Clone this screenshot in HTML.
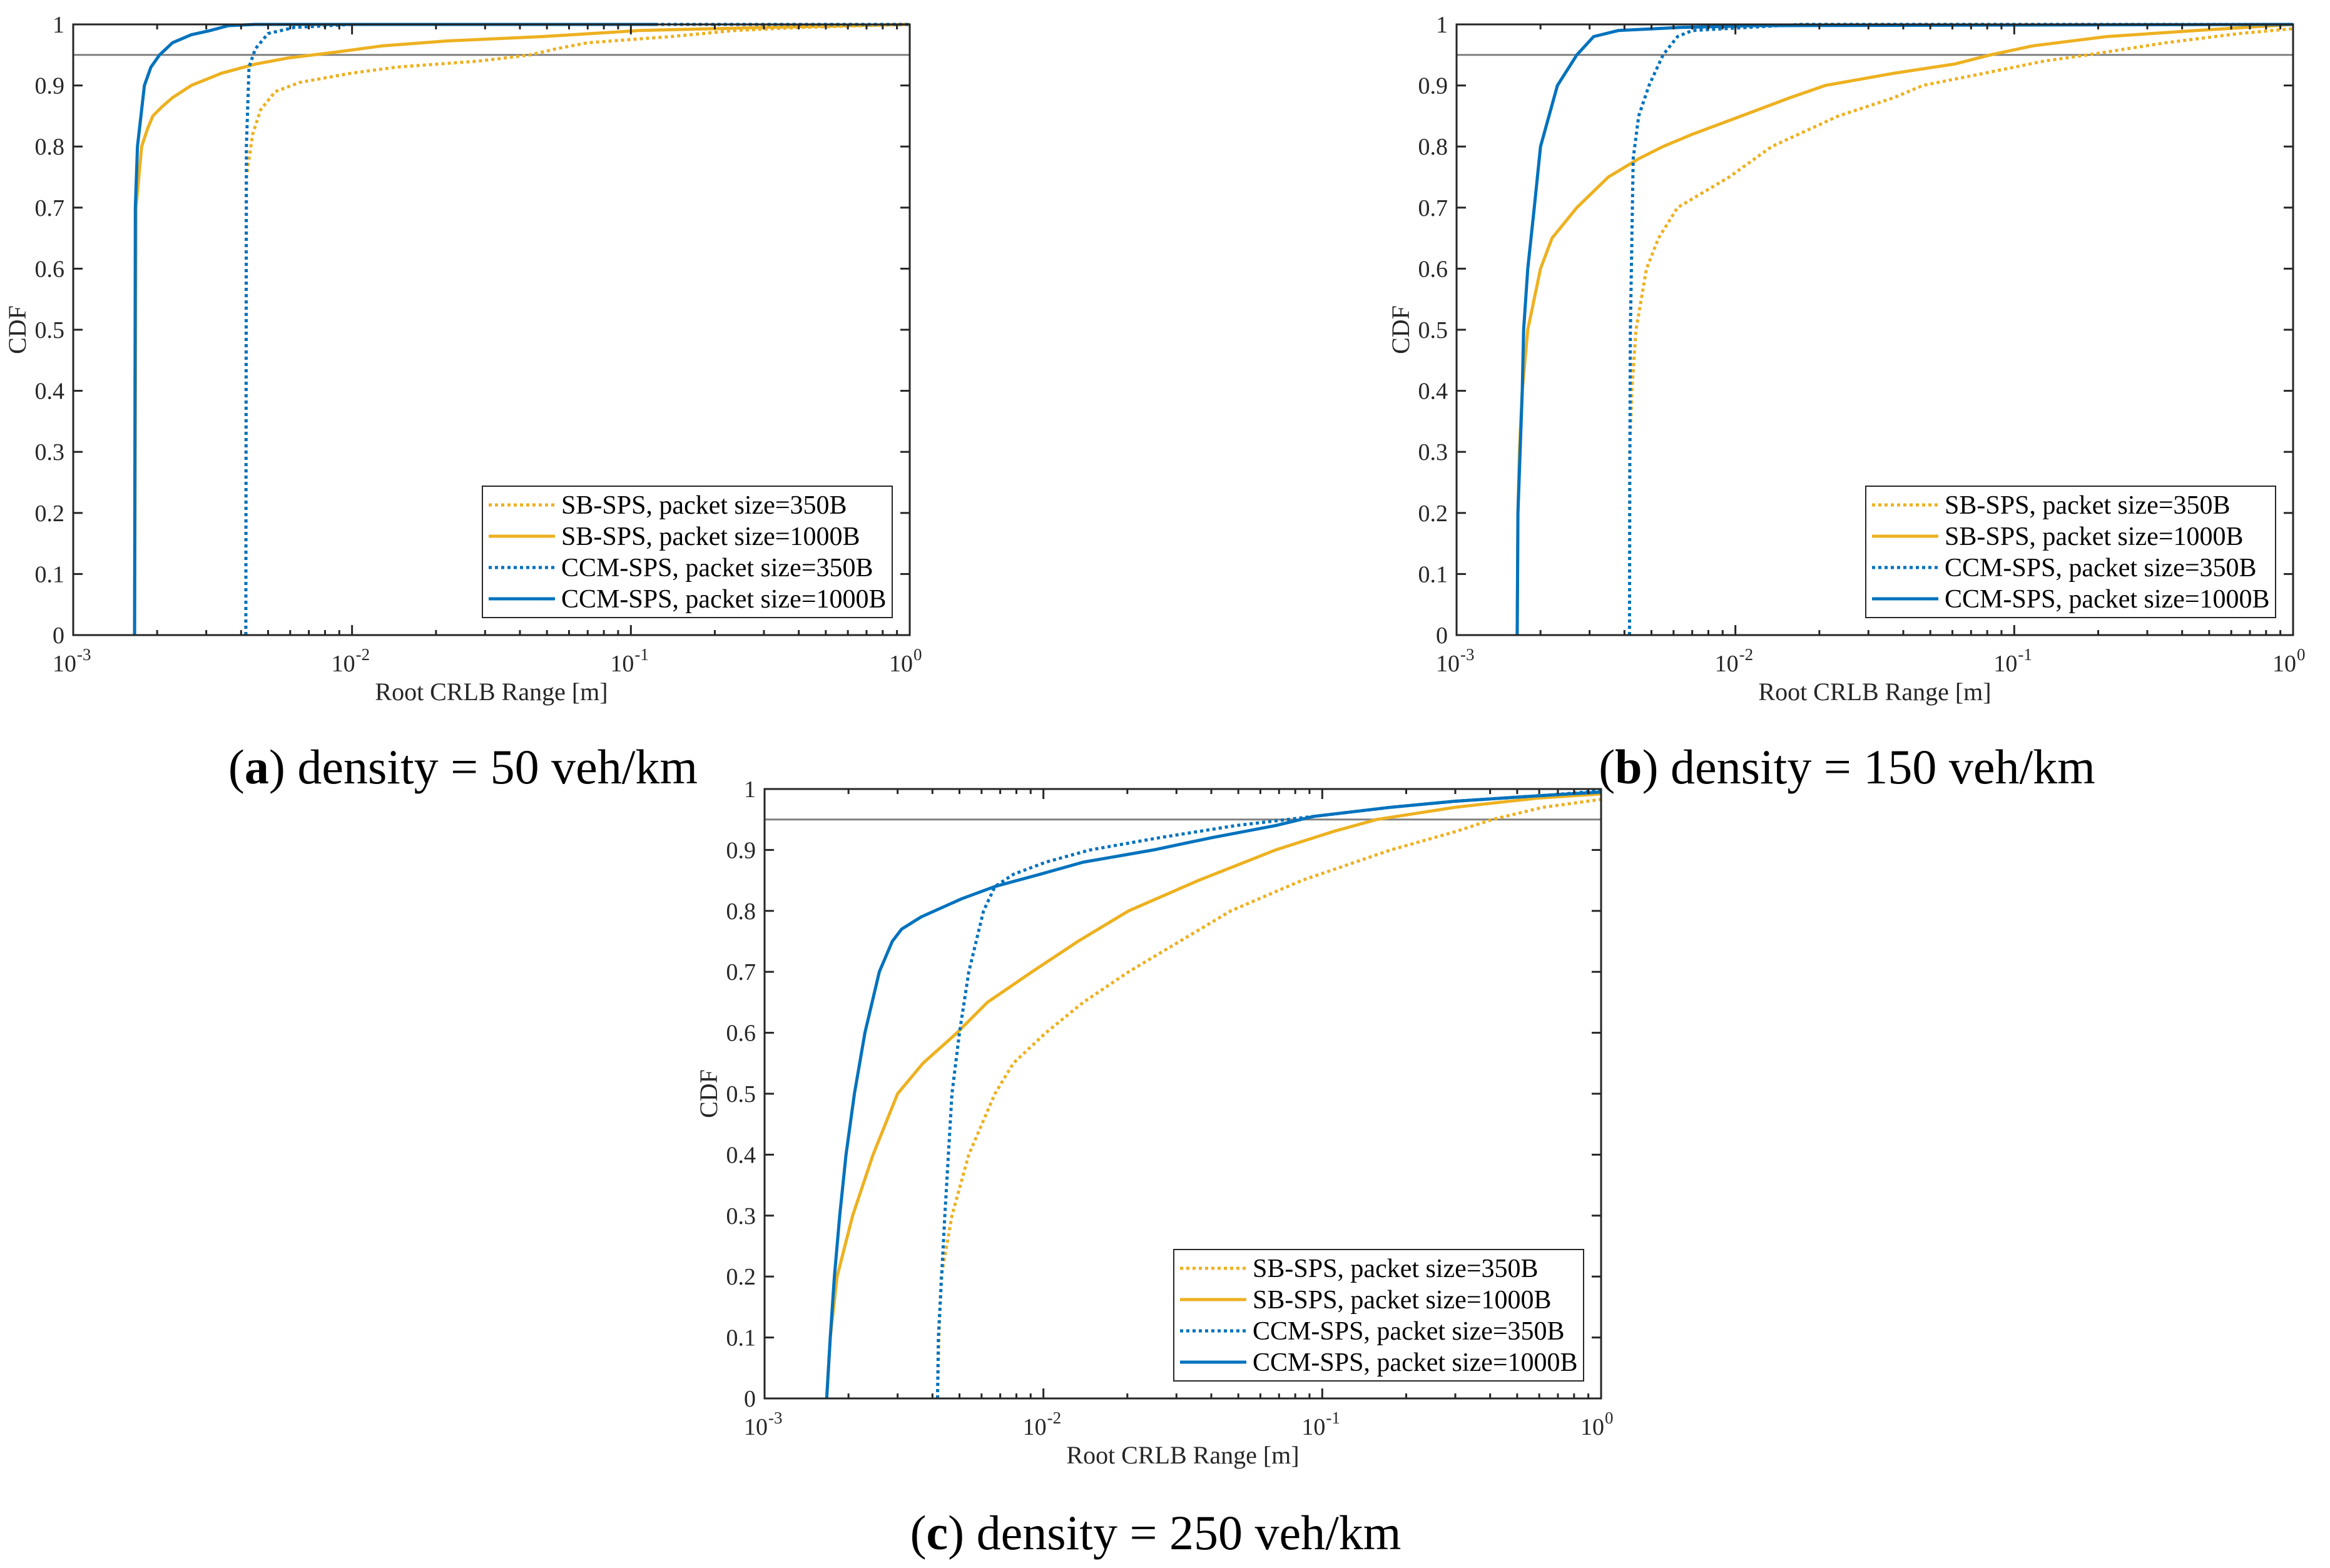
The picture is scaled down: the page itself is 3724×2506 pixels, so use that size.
<!DOCTYPE html>
<html><head><meta charset="utf-8"><style>
html,body{margin:0;padding:0;background:#fff;}
svg{display:block;font-family:"Liberation Serif",serif;}
</style></head><body>
<svg id="fig" width="3724" height="2506" viewBox="0 0 3724 2506" xmlns="http://www.w3.org/2000/svg"></svg>
<script>
// ---- Data (x in metres, y = CDF) ----
// Plot (a) density = 50 veh/km
const aSb350X = [0.00416,0.00418,0.0044,0.0047,0.0053,0.0065,0.0099,0.0144,0.0285,0.0435,0.054,0.07,0.139,0.235,0.4,1];
const aSb350Y = [0,0.75,0.82,0.86,0.89,0.905,0.92,0.93,0.94,0.95,0.96,0.97,0.98,0.99,0.995,1];
const aSb1000X = [0.00166,0.00168,0.00176,0.00185,0.00193,0.00208,0.00227,0.00265,0.0034,0.0045,0.0059,0.0089,0.0129,0.022,0.048,0.107,0.3,1];
const aSb1000Y = [0,0.7,0.8,0.83,0.85,0.865,0.88,0.9,0.92,0.935,0.945,0.955,0.965,0.973,0.98,0.99,0.995,1];
const aCcm350X = [0.00416,0.00418,0.00427,0.0045,0.005,0.0062,0.01,1];
const aCcm350Y = [0,0.8,0.93,0.96,0.985,0.995,1,1];
const aCcm1000X = [0.00166,0.00167,0.0017,0.0018,0.0019,0.00204,0.00227,0.00265,0.0031,0.0036,0.0045,0.125];
const aCcm1000Y = [0,0.7,0.8,0.9,0.93,0.95,0.97,0.983,0.99,0.998,1,1];
// Plot (b) density = 150 veh/km
const bSb350X = [0.00417,0.00418,0.00425,0.0044,0.0048,0.0053,0.0062,0.0095,0.0135,0.0234,0.037,0.047,0.078,0.128,0.183,0.35,0.64,1];
const bSb350Y = [0,0.3,0.4,0.5,0.6,0.65,0.7,0.75,0.8,0.85,0.88,0.9,0.92,0.94,0.95,0.97,0.985,0.993];
const bSb1000X = [0.00165,0.00166,0.00168,0.00172,0.0018,0.002,0.0022,0.0027,0.0035,0.0045,0.0055,0.007,0.0105,0.0157,0.021,0.037,0.061,0.082,0.117,0.214,0.45,1];
const bSb1000Y = [0,0.2,0.3,0.4,0.5,0.6,0.65,0.7,0.75,0.78,0.8,0.82,0.85,0.88,0.9,0.92,0.935,0.95,0.965,0.98,0.99,1];
const bCcm350X = [0.00417,0.00418,0.0042,0.0043,0.0045,0.0049,0.0055,0.0062,0.007,0.0173,1];
const bCcm350Y = [0,0.25,0.5,0.78,0.85,0.9,0.95,0.98,0.99,1,1];
const bCcm1000X = [0.00165,0.00166,0.00172,0.00174,0.0018,0.0019,0.002,0.0023,0.0027,0.0031,0.0038,0.0063,0.012,1];
const bCcm1000Y = [0,0.2,0.4,0.5,0.6,0.7,0.8,0.9,0.95,0.98,0.99,0.995,0.998,1];
// Plot (c) density = 250 veh/km
const cSb350X = [0.00417,0.00422,0.0043,0.0047,0.0054,0.0067,0.0078,0.0102,0.0139,0.0202,0.0308,0.047,0.0845,0.176,0.3,0.408,0.62,1];
const cSb350Y = [0,0.1,0.2,0.3,0.4,0.5,0.55,0.6,0.65,0.7,0.75,0.8,0.85,0.9,0.93,0.95,0.97,0.983];
const cSb1000X = [0.00167,0.00172,0.00182,0.00207,0.00245,0.003,0.0037,0.0049,0.0063,0.0091,0.0133,0.0202,0.036,0.068,0.109,0.157,0.3,0.59,1];
const cSb1000Y = [0,0.1,0.2,0.3,0.4,0.5,0.55,0.6,0.65,0.7,0.75,0.8,0.85,0.9,0.93,0.95,0.97,0.985,0.992];
const cCcm350X = [0.00417,0.0042,0.00443,0.0047,0.005,0.0054,0.0061,0.0067,0.0078,0.0102,0.0147,0.026,0.049,0.093,0.176,0.3,0.65,1];
const cCcm350Y = [0,0.1,0.3,0.5,0.6,0.7,0.8,0.84,0.86,0.88,0.9,0.92,0.94,0.955,0.97,0.98,0.99,0.997];
const cCcm1000X = [0.00167,0.00172,0.00178,0.00186,0.00196,0.0021,0.00229,0.00258,0.00287,0.0031,0.00364,0.0051,0.0067,0.0097,0.0139,0.0248,0.04,0.068,0.093,0.176,0.3,0.65,1];
const cCcm1000Y = [0,0.1,0.2,0.3,0.4,0.5,0.6,0.7,0.75,0.77,0.79,0.82,0.84,0.86,0.88,0.9,0.92,0.94,0.955,0.97,0.98,0.99,0.995];

const yTickLabels = ['0','0.1','0.2','0.3','0.4','0.5','0.6','0.7','0.8','0.9','1'];
const xTickExps = ['-3','-2','-1','0'];
const legendLabels = ['SB-SPS, packet size=350B','SB-SPS, packet size=1000B','CCM-SPS, packet size=350B','CCM-SPS, packet size=1000B'];
const refLevel = 0.95;

const ORANGE = '#EDB120', BLUE = '#0072BD';
const NS = 'http://www.w3.org/2000/svg';
const fig = document.getElementById('fig');
function mk(tag, attrs, parent){const e=document.createElementNS(NS,tag);for(const k in attrs)e.setAttribute(k,attrs[k]);(parent||fig).appendChild(e);return e;}

function drawPlot(id, L, T, W, H, series, caption, capX, capY, letter){
  const g = mk('g',{});
  
  
  const xs = v => L + (Math.log10(v)+3)/3*W;
  const ys = v => T + H - v*H;
  const ref = mk('line',{x1:L,x2:L+W,y1:ys(refLevel),y2:ys(refLevel),stroke:'#808080','stroke-width':3},g);
  
  
  series.forEach(s=>{
    let d='';
    s.x.forEach((v,i)=>{d+=(i?'L':'M')+xs(v).toFixed(1)+','+ys(s.y[i]).toFixed(1);});
    const p = mk('path',{d:d,fill:'none',stroke:s.c,'stroke-width':5,'stroke-linejoin':'round'},g);
    if(s.dot) p.setAttribute('stroke-dasharray','5 5');
    
    
  });
  const box = mk('rect',{x:L,y:T,width:W,height:H,fill:'none',stroke:'#262626','stroke-width':3},g);
  
  
  yTickLabels.forEach((lab,i)=>{
    const y = ys(i/10);
    mk('line',{x1:L,x2:L+15,y1:y,y2:y,stroke:'#262626','stroke-width':3},g);
    mk('line',{x1:L+W,x2:L+W-15,y1:y,y2:y,stroke:'#262626','stroke-width':3},g);
    const t = mk('text',{x:L-14,y:y+13,'font-size':38,'text-anchor':'end',fill:'#262626'},g);
    t.textContent = lab;
    
    
  });
  for(let dcd=0; dcd<=3; dcd++){
    const x = L + dcd/3*W;
    mk('line',{x1:x,x2:x,y1:T+H,y2:T+H-16,stroke:'#262626','stroke-width':3},g);
    mk('line',{x1:x,x2:x,y1:T,y2:T+16,stroke:'#262626','stroke-width':3},g);
    const t = mk('text',{x:x-14,y:T+H+58,'font-size':38,'text-anchor':'middle',fill:'#262626'},g);
    t.textContent = '10';
    
    
    const e = mk('text',{x:x+6,y:T+H+40,'font-size':27,'text-anchor':'start',fill:'#262626'},g);
    e.textContent = xTickExps[dcd];
    
    
    if(dcd<3){
      for(let m=2;m<=9;m++){
        const xm = L + (dcd + Math.log10(m))/3*W;
        mk('line',{x1:xm,x2:xm,y1:T+H,y2:T+H-8,stroke:'#262626','stroke-width':3},g);
        mk('line',{x1:xm,x2:xm,y1:T,y2:T+8,stroke:'#262626','stroke-width':3},g);
      }
    }
  }
  const xt = mk('text',{x:L+W/2,y:T+H+104,'font-size':40,'text-anchor':'middle',fill:'#262626'},g);
  xt.textContent = 'Root CRLB Range [m]';
  
  
  const yt = mk('text',{x:0,y:0,'font-size':40,'text-anchor':'middle',fill:'#262626',transform:`translate(${L-76},${T+H/2}) rotate(-90)`},g);
  yt.textContent = 'CDF';
  
  
  const lw=655, lh=210, lx=L+W-28-lw, ly=T+H-28-lh;
  const lg = mk('g',{},g);
  
  
  mk('rect',{x:lx,y:ly,width:lw,height:lh,fill:'#fff',stroke:'#262626','stroke-width':2},lg);
  series.forEach((s,i)=>{
    const ry = ly + 30 + i*50;
    const ln = mk('line',{x1:lx+10,x2:lx+116,y1:ry,y2:ry,stroke:s.c,'stroke-width':5},lg);
    if(s.dot) ln.setAttribute('stroke-dasharray','5 5');
    const t = mk('text',{x:lx+126,y:ry+14,'font-size':42,fill:'#000'},lg);
    t.textContent = legendLabels[i];
    
    
  });
  const cap = mk('text',{x:capX,y:capY,'font-size':78,'text-anchor':'middle',fill:'#000'},g);
  
  
  const t1 = mk('tspan',{},cap); t1.textContent='(';
  const t2 = mk('tspan',{'font-weight':'bold'},cap); t2.textContent=letter;
  const t3 = mk('tspan',{},cap); t3.textContent=caption;
}

drawPlot('a',117,39,1337,976,[
  {n:'sb-350',x:aSb350X,y:aSb350Y,c:ORANGE,dot:true},
  {n:'sb-1000',x:aSb1000X,y:aSb1000Y,c:ORANGE},
  {n:'ccm-350',x:aCcm350X,y:aCcm350Y,c:BLUE,dot:true},
  {n:'ccm-1000',x:aCcm1000X,y:aCcm1000Y,c:BLUE}
],') density = 50 veh/km',740,1252,'a');
drawPlot('b',2328,39,1337,976,[
  {n:'sb-350',x:bSb350X,y:bSb350Y,c:ORANGE,dot:true},
  {n:'sb-1000',x:bSb1000X,y:bSb1000Y,c:ORANGE},
  {n:'ccm-350',x:bCcm350X,y:bCcm350Y,c:BLUE,dot:true},
  {n:'ccm-1000',x:bCcm1000X,y:bCcm1000Y,c:BLUE}
],') density = 150 veh/km',2952,1252,'b');
drawPlot('c',1222,1261,1337,974,[
  {n:'sb-350',x:cSb350X,y:cSb350Y,c:ORANGE,dot:true},
  {n:'sb-1000',x:cSb1000X,y:cSb1000Y,c:ORANGE},
  {n:'ccm-350',x:cCcm350X,y:cCcm350Y,c:BLUE,dot:true},
  {n:'ccm-1000',x:cCcm1000X,y:cCcm1000Y,c:BLUE}
],') density = 250 veh/km',1847,2476,'c');
</script>
</body></html>
